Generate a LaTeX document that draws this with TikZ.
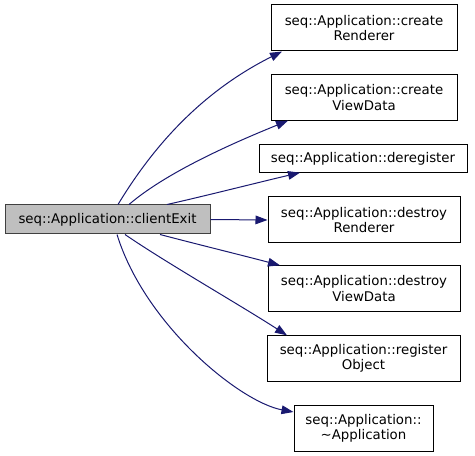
\documentclass[tikz,border=0pt]{standalone}
\usepackage{fontspec}
\setmainfont{DejaVu Sans}
\usetikzlibrary{arrows.meta,calc}
\definecolor{edgecol}{HTML}{191970}
\definecolor{mainfill}{HTML}{BFBFBF}
\definecolor{mainborder}{HTML}{404040}
\begin{document}
\begin{tikzpicture}[x=0.75pt,y=-0.75pt,
  box/.style={draw=black,fill=white,line width=0.75pt,inner sep=0pt,align=center,
    font=\fontsize{10pt}{11.5pt}\selectfont},
  mainbox/.style={box,draw=mainborder,fill=mainfill},
  edge/.style={draw=edgecol,line width=0.75pt,-{Triangle[length=9pt,width=6.5pt]}}]
\useasboundingbox (0,0) rectangle (475,456);
\node[mainbox,minimum width=153.75pt,minimum height=21.75pt] (main) at (107.5,219.5) {seq::Application::clientExit};
\node[box,minimum width=139.5pt,minimum height=34.5pt] (cr) at (364,28) {seq::Application::create\\Renderer};
\node[box,minimum width=139.5pt,minimum height=34pt] (cv) at (364,97.5) {seq::Application::create\\ViewData};
\node[box,minimum width=156pt,minimum height=20.5pt] (dg) at (363,158.5) {seq::Application::deregister};
\node[box,minimum width=144pt,minimum height=34.5pt] (dr) at (364,220) {seq::Application::destroy\\Renderer};
\node[box,minimum width=144pt,minimum height=34pt] (dv) at (364,288.5) {seq::Application::destroy\\ViewData};
\node[box,minimum width=144.75pt,minimum height=34pt] (ro) at (363.5,358.5) {seq::Application::register\\Object};
\node[box,minimum width=104.25pt,minimum height=34.5pt] (ap) at (363.5,428) {seq::Application::\\\textasciitilde Application};
\draw[edge] ($(main.north)+(10.5,0)$) .. controls (148,155) and (195,95) .. ($(cr.south)+(-82,0)$);
\draw[edge] ($(main.north)+(21.5,0)$) .. controls (169,170) and (243,139) .. ($(cv.south)+(-76,0)$);
\draw[edge] ($(main.north)+(59.5,0)$) .. controls (205,196) and (260,182) .. ($(dg.south)+(-63,0)$);
\draw[edge] (main.east) -- (dr.west);
\draw[edge] ($(main.south)+(52.5,0)$) .. controls (200,245) and (245,256) .. ($(dv.north)+(-84,0)$);
\draw[edge] ($(main.south)+(17.5,0)$) .. controls (165,262) and (240,305) .. ($(ro.north)+(-76.5,0)$);
\draw[edge] ($(main.south)+(9.5,0)$) .. controls (145,325) and (240,402) .. ($(ap.west)+(0,-16)$);
\end{tikzpicture}
\end{document}
